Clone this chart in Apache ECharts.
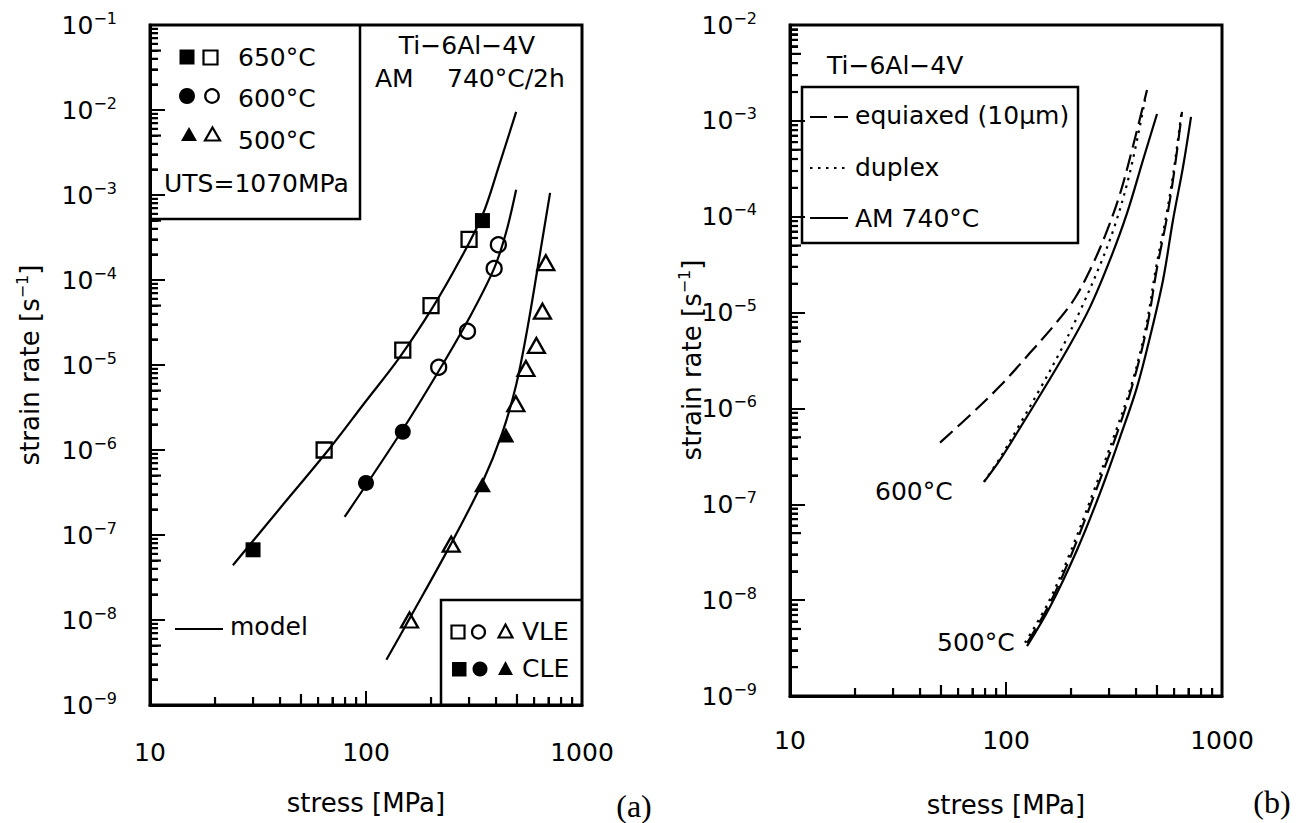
<!DOCTYPE html>
<html>
<head>
<meta charset="utf-8">
<script src="https://cdn.jsdelivr.net/npm/echarts@6/dist/echarts.min.js"></script>
<style>
  html, body { margin: 0; padding: 0; background: #fff; }
  #chart { width: 1302px; height: 823px; }
</style>
</head>
<body>
<div id="chart"></div>
<script>
// ---- (a) measured creep data, stress [MPa] vs strain rate [1/s] ----
const sq650Closed = [[30, 6.7e-8], [346, 5.0e-4]];
const sq650Open   = [[64, 1.0e-6], [148, 1.5e-5], [200, 5.0e-5], [300, 3.0e-4]];
const ci600Closed = [[100, 4.1e-7], [148, 1.64e-6]];
const ci600Open   = [[217, 9.4e-6], [295, 2.5e-5], [392, 1.37e-4], [410, 2.6e-4]];
const tr500Closed = [[346, 3.9e-7], [444, 1.5e-6]];
const tr500Open   = [[159, 1.0e-8], [248, 7.8e-8], [494, 3.5e-6], [550, 9.1e-6], [615, 1.7e-5], [656, 4.3e-5], [680, 1.6e-4]];

// ---- (a) model curves ----
const model650 = [[24.2, 4.4e-8], [39.9, 2.05e-7], [67.8, 1.04e-6], [98.4, 3.57e-6], [142.8, 1.22e-5],
                  [202.9, 4.69e-5], [270.4, 1.67e-4], [346.5, 5.82e-4], [413.7, 2.25e-3], [495.6, 9.5e-3]];
const model600 = [[79.6, 1.63e-7], [147.5, 1.72e-6], [218.5, 8.72e-6], [300.6, 3.57e-5],
                  [392.4, 1.38e-4], [445.7, 3.67e-4], [495.6, 1.15e-3]];
const model500 = [[124.3, 3.4e-9], [158.8, 1.03e-8], [245.6, 7.6e-8], [346.5, 4.21e-7], [427.1, 1.58e-6],
                  [495.6, 5.82e-6], [557.2, 2.58e-5], [626.4, 1.5e-4], [711.6, 1.06e-3]];

// ---- (b) model curves for three microstructures ----
const equiaxed600 = [[49.5, 4.4e-7], [68.1, 8.5e-7], [93.8, 1.71e-6], [129.2, 3.8e-6], [172.2, 8.0e-6],
                     [208.7, 1.42e-5], [244.9, 2.78e-5], [287.3, 6.3e-5], [337.1, 1.73e-4], [387.3, 5.47e-4], [449.6, 2.1e-3]];
const duplex600   = [[79.1, 1.71e-7], [93.8, 3.04e-7], [116.1, 6.89e-7], [143.7, 1.6e-6], [177.8, 3.88e-6],
                     [220.1, 1.04e-5], [272.4, 3.13e-5], [319.7, 8.2e-5], [375.2, 2.93e-4], [440.1, 1.65e-3]];
const am600       = [[79.1, 1.71e-7], [93.8, 2.9e-7], [116.1, 6.25e-7], [133.4, 1.04e-6], [191.6, 4.07e-6],
                     [244.9, 1.14e-5], [302.9, 3.54e-5], [363.4, 1.09e-4], [430.9, 3.91e-4], [500.2, 1.18e-3]];
const equiaxed500 = [[125.1, 3.57e-9], [159.8, 9.3e-9], [202.1, 3.1e-8], [258.2, 1.31e-7], [326.5, 5.5e-7],
                     [387.3, 1.84e-6], [449.6, 7.1e-6], [500.2, 2.92e-5], [556.4, 9.9e-5], [599.5, 2.86e-4], [652.9, 1.24e-3]];
const duplex500   = [[122.4, 3.6e-9], [156.5, 9.3e-9], [197.9, 3.1e-8], [252.8, 1.31e-7], [319.7, 5.5e-7],
                     [383.1, 1.84e-6], [444.8, 7.1e-6], [494.9, 2.92e-5], [550.5, 9.9e-5], [596, 2.9e-4], [650, 1.24e-3]];
const am500       = [[125.1, 3.32e-9], [159.8, 8.5e-9], [213.2, 3.34e-8], [272.4, 1.31e-7], [337.1, 5.0e-7],
                     [404.2, 1.67e-6], [464.2, 5.56e-6], [533.4, 2.19e-5], [593.2, 9.25e-5], [659.9, 3.3e-4], [718.8, 1.1e-3]];

// ---- axis ranges (decades) ----
const stressRange = [10, 1000];
const rateRangeA = [1e-9, 1e-1];
const rateRangeB = [1e-9, 1e-2];
const minorMantissas = [2, 3, 4, 5, 6, 7, 8, 9];

const FONT = '"DejaVu Sans", sans-serif';
const BLACK = '#000';

function minorValues(lo, hi) {
  const out = [];
  for (let e = Math.round(Math.log10(lo)); e < Math.round(Math.log10(hi)); e++) {
    for (const m of minorMantissas) out.push(m * Math.pow(10, e));
  }
  return out;
}

function mantissa(v) {
  const e = Math.floor(Math.log10(v) + 1e-9);
  return Math.round(v / Math.pow(10, e));
}

function xAxis(idx, margin) {
  return {
    type: 'log', logBase: 10, gridIndex: idx, min: stressRange[0], max: stressRange[1],
    axisLine: { lineStyle: { color: BLACK, width: 3 } },
    axisTick: { inside: true, length: 14, lineStyle: { color: BLACK, width: 2 } },
    minorTick: { show: true, splitNumber: 9, length: 8, lineStyle: { color: BLACK, width: 2 } },
    axisLabel: { margin: margin, color: BLACK, fontSize: 25, fontFamily: FONT,
                 formatter: v => String(Math.round(v)) },
    splitLine: { show: false }
  };
}

function yAxis(idx, range) {
  return {
    type: 'log', logBase: 10, gridIndex: idx, min: range[0], max: range[1],
    axisLine: { lineStyle: { color: BLACK, width: 3 } },
    axisTick: { inside: true, length: 15, lineStyle: { color: BLACK, width: 2 } },
    minorTick: { show: true, splitNumber: 9, length: 8, lineStyle: { color: BLACK, width: 2 } },
    axisLabel: {
      margin: 33, color: BLACK,
      formatter: v => {
        const e = Math.round(Math.log10(v));
        return '{b|10}{s|' + (e < 0 ? '\u2212' : '') + Math.abs(e) + '}';
      },
      rich: {
        b: { fontSize: 25, fontFamily: FONT, color: BLACK, lineHeight: 30 },
        s: { fontSize: 16, fontFamily: FONT, color: BLACK, lineHeight: 14, verticalAlign: 'top' }
      }
    },
    splitLine: { show: false }
  };
}

function curve(idx, data, dash) {
  return {
    type: 'line', xAxisIndex: idx, yAxisIndex: idx, data: data, z: 3,
    showSymbol: false, symbol: 'none', smooth: 0.35,
    lineStyle: { color: BLACK, width: 2.2, type: dash || 'solid', opacity: 1 }
  };
}

function marks(data, symbol, filled, size) {
  return {
    type: 'scatter', xAxisIndex: 0, yAxisIndex: 0, data: data, z: 4,
    symbol: symbol, symbolSize: size,
    itemStyle: filled
      ? { color: BLACK, borderColor: BLACK, borderWidth: 0, opacity: 1 }
      : { color: 'rgba(0,0,0,0)', borderColor: BLACK, borderWidth: 2.3, opacity: 1 }
  };
}

const DASH = [17, 7];
const DOT = [2.5, 5.5];

const txt = (x, y, text, extra) => ({
  type: 'text', x: x, y: y, z: 10,
  style: Object.assign({ text: text, fill: BLACK, fontSize: 25, fontFamily: FONT,
                         align: 'left', verticalAlign: 'middle' }, extra || {})
});
const stroke = { stroke: BLACK, lineWidth: 2.5, fill: 'none' };
const tri = (cx, cy, w, h) => [[cx - w / 2, cy + h / 2], [cx + w / 2, cy + h / 2], [cx, cy - h / 2]];

const titleRich = {
  t: { fontSize: 26, fontFamily: FONT, color: BLACK, lineHeight: 32 },
  s: { fontSize: 16, fontFamily: FONT, color: BLACK, lineHeight: 16, verticalAlign: 'top' }
};

const graphics = [
  // (a) upper-left key
  { type: 'polyline', z: 10, shape: { points: [[360, 25], [360, 219], [150, 219]] }, style: stroke },
  { type: 'rect', z: 10, shape: { x: 179.5, y: 49.5, width: 15, height: 15 }, style: { fill: BLACK } },
  { type: 'rect', z: 10, shape: { x: 203.5, y: 50.5, width: 14, height: 14 }, style: { stroke: BLACK, lineWidth: 2.2, fill: 'none' } },
  { type: 'circle', z: 10, shape: { cx: 187, cy: 96, r: 8 }, style: { fill: BLACK } },
  { type: 'circle', z: 10, shape: { cx: 212, cy: 96, r: 6.8 }, style: { stroke: BLACK, lineWidth: 2.2, fill: 'none' } },
  { type: 'polygon', z: 10, shape: { points: tri(189, 134, 16, 14) }, style: { fill: BLACK } },
  { type: 'polygon', z: 10, shape: { points: tri(212.5, 134, 15, 13) }, style: { stroke: BLACK, lineWidth: 2.2, fill: 'none' } },
  txt(238, 57, '650\u00b0C'),
  txt(238, 98, '600\u00b0C'),
  txt(238, 140, '500\u00b0C'),
  txt(164, 183, 'UTS=1070MPa'),
  txt(467, 45, 'Ti\u22126Al\u22124V', { align: 'center' }),
  txt(375, 78, 'AM'),
  txt(447, 78, '740\u00b0C/2h'),
  // (a) lower-right key
  { type: 'polyline', z: 10, shape: { points: [[441, 705], [441, 600], [582, 600]] }, style: stroke },
  { type: 'rect', z: 10, shape: { x: 451.5, y: 625.5, width: 13, height: 13 }, style: { stroke: BLACK, lineWidth: 2.2, fill: 'none' } },
  { type: 'circle', z: 10, shape: { cx: 478.5, cy: 632, r: 6.5 }, style: { stroke: BLACK, lineWidth: 2.2, fill: 'none' } },
  { type: 'polygon', z: 10, shape: { points: tri(505.5, 631, 14, 13) }, style: { stroke: BLACK, lineWidth: 2.2, fill: 'none' } },
  txt(522, 631, 'VLE'),
  { type: 'rect', z: 10, shape: { x: 452, y: 662, width: 14.5, height: 14.5 }, style: { fill: BLACK } },
  { type: 'circle', z: 10, shape: { cx: 480, cy: 669, r: 7.5 }, style: { fill: BLACK } },
  { type: 'polygon', z: 10, shape: { points: tri(505.5, 668, 15, 14) }, style: { fill: BLACK } },
  txt(522, 668, 'CLE'),
  // (a) model key
  { type: 'line', z: 10, shape: { x1: 175, y1: 629, x2: 223, y2: 629 }, style: { stroke: BLACK, lineWidth: 2.2 } },
  txt(230, 626, 'model'),
  // (a) axis titles and panel letter
  { type: 'text', x: 30, y: 365, rotation: Math.PI / 2, z: 10,
    style: { text: '{t|strain rate [s}{s|\u22121}{t|]}', rich: titleRich, align: 'center', verticalAlign: 'middle' } },
  txt(366, 803, 'stress [MPa]', { align: 'center', fontSize: 26 }),
  txt(634, 806, '(a)', { align: 'center', fontSize: 32, fontFamily: '"Liberation Serif", serif' }),

  // (b) annotations and key
  txt(827, 65, 'Ti\u22126Al\u22124V'),
  { type: 'rect', z: 10, shape: { x: 802, y: 87, width: 276, height: 156 }, style: stroke },
  { type: 'line', z: 10, shape: { x1: 810, y1: 117, x2: 848, y2: 117 }, style: { stroke: BLACK, lineWidth: 2.2, lineDash: DASH } },
  { type: 'line', z: 10, shape: { x1: 810, y1: 168, x2: 848, y2: 168 }, style: { stroke: BLACK, lineWidth: 2.2, lineDash: DOT } },
  { type: 'line', z: 10, shape: { x1: 810, y1: 218, x2: 848, y2: 218 }, style: { stroke: BLACK, lineWidth: 2.2 } },
  txt(855, 115, 'equiaxed (10\u03bcm)'),
  txt(855, 167, 'duplex'),
  txt(855, 218, 'AM 740\u00b0C'),
  txt(875, 491, '600\u00b0C'),
  txt(937, 642, '500\u00b0C'),
  { type: 'text', x: 692, y: 360, rotation: Math.PI / 2, z: 10,
    style: { text: '{t|strain rate [s}{s|\u22121}{t|]}', rich: titleRich, align: 'center', verticalAlign: 'middle' } },
  txt(1006, 805, 'stress [MPa]', { align: 'center', fontSize: 26 }),
  txt(1272, 802, '(b)', { align: 'center', fontSize: 32, fontFamily: '"Liberation Serif", serif' })
];

const chart = echarts.init(document.getElementById('chart'), null, { renderer: 'svg' });
chart.setOption({
  animation: false,
  grid: [
    { left: 150, top: 25, width: 432, height: 680, show: true, borderColor: BLACK, borderWidth: 3 },
    { left: 790, top: 25, width: 432, height: 671, show: true, borderColor: BLACK, borderWidth: 3 }
  ],
  xAxis: [xAxis(0, 35), xAxis(1, 32)],
  yAxis: [yAxis(0, rateRangeA), yAxis(1, rateRangeB)],
  series: [
    curve(0, model650), curve(0, model600), curve(0, model500),
    marks(sq650Closed, 'rect', true, 15),
    marks(sq650Open, 'rect', false, 15),
    marks(ci600Closed, 'circle', true, 16),
    marks(ci600Open, 'circle', false, 15),
    marks(tr500Closed, 'triangle', true, [17, 15]),
    marks(tr500Open, 'triangle', false, [17, 15]),
    curve(1, equiaxed600, DASH), curve(1, duplex600, DOT), curve(1, am600),
    curve(1, equiaxed500, DASH), curve(1, duplex500, DOT), curve(1, am500)
  ]
});

// inward ticks at 2..9 of each decade (longer at 5), placed through each grid's log scales
function minorTicks(g, yRange) {
  const els = [];
  minorValues(stressRange[0], stressRange[1]).forEach(v => {
    const p = chart.convertToPixel({ gridIndex: g }, [v, yRange[0]]);
    const len = mantissa(v) === 5 ? 11 : 8;
    els.push({ type: 'line', z: 100,
               shape: { x1: p[0], y1: p[1], x2: p[0], y2: p[1] - len },
               style: { stroke: BLACK, lineWidth: 2.2 } });
  });
  minorValues(yRange[0], yRange[1]).forEach(v => {
    const p = chart.convertToPixel({ gridIndex: g }, [stressRange[0], v]);
    const len = mantissa(v) === 5 ? 11 : 8;
    els.push({ type: 'line', z: 100,
               shape: { x1: p[0], y1: p[1], x2: p[0] + len, y2: p[1] },
               style: { stroke: BLACK, lineWidth: 2.2 } });
  });
  return els;
}

chart.setOption({
  graphic: { elements: graphics.concat(minorTicks(0, rateRangeA), minorTicks(1, rateRangeB)) }
});
</script>
</body>
</html>
